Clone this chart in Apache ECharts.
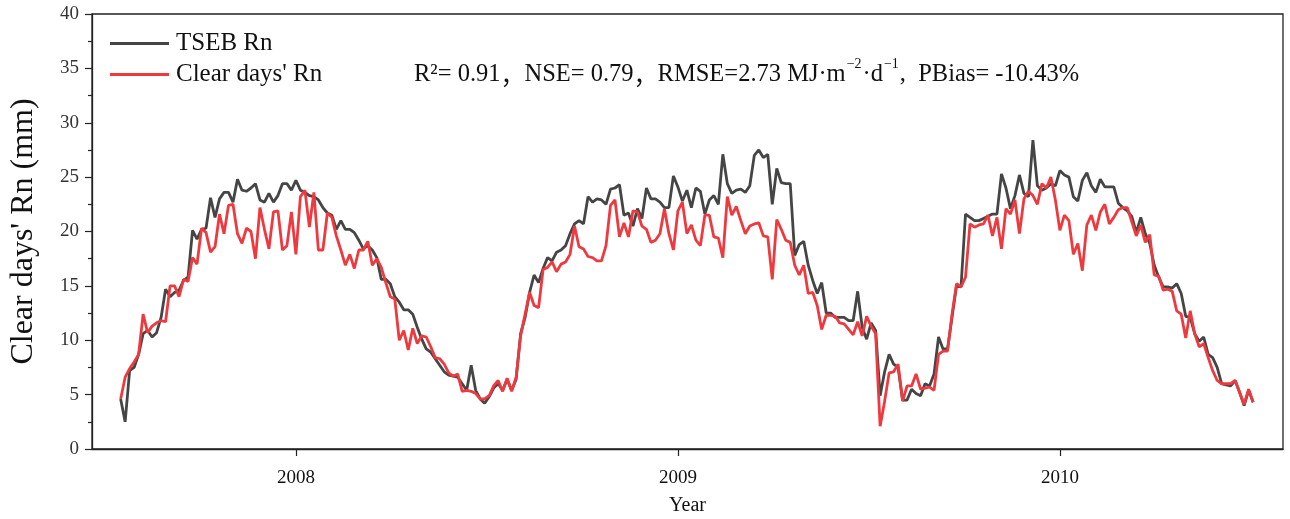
<!DOCTYPE html>
<html>
<head>
<meta charset="utf-8">
<script src="https://cdn.jsdelivr.net/npm/echarts@6/dist/echarts.min.js"></script>
<style>
html,body{margin:0;padding:0;background:#fff;}
#chart{width:1290px;height:519px;}
</style>
</head>
<body>
<div id="chart"></div>
<script>
// Sampling grid (fractional year) of the series
const START_YEAR = 2007.541;
const STEP_YEAR = 0.011765;
const YEAR_TICKS = [2008, 2009, 2010];
const SERIES_NAMES = ['TSEB Rn', "Clear days' Rn"];

const TSEB_RN = [
4.6,2.5,7.2,7.5,8.7,10.6,10.9,10.3,10.7,12.1,
14.7,14.0,14.4,14.6,15.5,15.8,20.1,19.3,20.2,20.3,
23.1,21.3,23.0,23.6,23.6,22.7,24.8,23.8,23.7,24.0,
24.4,22.9,22.7,23.5,22.7,23.3,24.4,24.4,23.8,24.7,
23.8,23.6,23.3,23.2,22.9,22.2,21.7,21.5,20.2,
21.0,20.2,20.2,19.9,19.2,18.4,18.7,18.3,17.6,15.6,
15.6,15.2,14.0,13.5,12.8,12.8,12.4,11.2,10.1,9.2,
8.9,8.3,7.7,7.1,6.8,6.7,6.6,6.0,5.4,7.7,
5.4,4.6,4.2,4.8,5.6,6.0,5.4,6.4,5.4,6.4,
10.6,12.1,14.4,16.0,15.3,16.6,17.6,17.3,18.1,18.3,
18.7,19.8,20.7,21.0,
20.7,23.2,22.7,23.0,22.9,22.5,23.9,24.0,24.3,21.5,
21.7,20.5,22.1,21.2,24.0,23.0,23.0,22.7,22.2,22.2,
25.1,24.1,22.8,23.8,22.2,24.0,23.7,21.6,22.9,23.3,
22.5,27.1,24.4,23.5,23.8,23.9,23.6,24.2,27.0,27.5,
26.8,27.1,22.5,25.8,24.5,24.4,24.4,17.8,18.8,19.1,
16.9,15.5,14.3,
15.3,12.5,12.5,12.1,12.1,12.1,11.8,11.8,14.5,11.2,
10.1,11.6,10.9,4.9,7.1,8.7,7.8,7.5,4.5,4.5,
5.5,5.1,4.9,6.0,5.8,6.9,10.3,9.2,9.2,12.1,
15.0,14.9,21.6,21.3,21.0,21.0,21.2,21.4,21.6,21.6,
25.3,24.0,22.1,23.3,25.2,23.5,23.2,28.4,24.2,23.8,
24.0,24.4,24.2,25.6,
25.2,25.0,23.2,22.8,24.7,25.4,24.2,23.6,24.8,24.1,
24.1,24.1,22.6,22.2,21.9,21.4,19.9,21.3,19.8,18.9,
16.9,15.8,14.9,14.9,14.8,15.2,14.3,12.2,12.1,10.6,
9.9,10.3,8.7,8.4,7.5,6.0,5.9,5.8,6.3,5.2,
4.0,5.4,4.3
];

const CLEAR_RN = [
4.6,6.6,7.4,8.0,8.7,12.4,10.7,11.3,11.6,11.8,
11.7,15.0,15.0,14.0,15.6,15.4,17.6,17.0,20.3,19.9,
18.1,18.6,21.6,19.8,22.4,22.5,19.8,18.9,20.3,20.0,
17.5,22.2,20.2,18.4,21.8,21.9,18.3,18.7,21.8,17.9,
23.2,23.8,20.4,23.6,18.3,18.3,21.7,21.3,19.6,
18.3,16.9,17.9,16.6,18.3,18.3,19.1,16.9,17.5,16.7,
15.3,14.0,13.8,10.0,10.9,9.1,11.1,9.7,10.4,10.3,
9.4,8.4,8.3,7.8,7.0,6.7,6.9,5.3,5.4,5.3,
5.1,4.6,4.6,4.9,5.8,6.3,5.3,6.5,5.3,6.6,
10.4,12.4,14.4,13.2,13.0,16.5,16.7,17.2,16.3,17.0,
17.2,17.9,20.5,18.6,
18.4,17.7,17.6,17.3,17.3,18.7,22.4,22.9,19.5,20.8,
19.5,21.9,21.8,20.5,20.2,19.0,19.2,19.8,22.1,19.8,
18.3,21.9,22.7,19.8,20.6,19.2,18.7,21.5,21.5,19.5,
19.4,17.6,23.2,21.5,22.3,21.0,19.8,20.5,20.7,20.8,
19.6,19.5,15.6,21.1,20.2,19.2,19.0,16.9,16.0,16.9,
14.3,14.4,13.2,
11.0,12.3,12.3,12.2,11.6,11.5,11.0,10.5,11.7,10.4,
12.2,11.3,10.6,2.1,4.4,7.0,7.1,7.8,4.4,5.8,
5.8,6.9,5.5,5.6,5.7,5.4,8.7,9.0,9.0,12.4,
15.2,14.9,15.8,20.7,20.4,20.6,20.7,21.5,19.6,21.3,
18.4,22.1,21.6,22.9,19.8,23.0,23.7,23.3,22.5,24.4,
24.0,25.0,22.9,20.1,
21.5,21.0,17.9,18.9,16.4,20.6,21.5,20.1,21.8,22.5,
20.7,21.3,22.0,22.2,22.2,20.9,19.6,20.6,19.0,19.7,
16.0,15.9,14.6,14.7,14.5,12.7,12.4,10.2,12.7,10.6,
9.4,9.7,8.4,7.2,6.3,6.0,6.0,6.0,6.3,5.2,
4.1,5.5,4.3
];

const TIME = TSEB_RN.map((_, i) => START_YEAR + i * STEP_YEAR);
const pairs = arr => arr.map((v, i) => [TIME[i], v]);

const SERIF = "'Liberation Serif','Times New Roman','Noto Sans CJK SC',serif";
const chart = echarts.init(document.getElementById('chart'), null, {renderer: 'canvas'});

chart.setOption({
  animation: false,
  backgroundColor: '#fff',
  grid: {left: 92, right: 7, top: 14, bottom: 70, outerBoundsMode: 'none', containLabel: false, show: true, borderColor: '#222', borderWidth: 1.3, backgroundColor: 'transparent'},
  legend: {
    orient: 'vertical', left: 110, top: 31, padding: 0,
    icon: 'rect', itemWidth: 59, itemHeight: 3, itemGap: 6,
    textStyle: {fontFamily: SERIF, fontSize: 25, color: '#111', lineHeight: 23, padding: [0, 0, 0, 2]},
    data: SERIES_NAMES
  },
  xAxis: {
    type: 'value', min: 2007.466, max: 2010.584,
    name: 'Year', nameLocation: 'middle', nameGap: 47,
    nameTextStyle: {fontFamily: SERIF, fontSize: 20, color: '#111'},
    axisLine: {show: true, lineStyle: {color: '#222', width: 1.3}},
    axisTick: {show: true, length: 7, customValues: YEAR_TICKS, lineStyle: {color: '#222', width: 1.2}},
    axisLabel: {margin: 20, customValues: YEAR_TICKS, formatter: v => String(Math.round(v)), fontFamily: SERIF, fontSize: 19, color: '#111'},
    splitLine: {show: false}
  },
  yAxis: {
    type: 'value', min: 0, max: 40, interval: 5,
    name: "Clear days' Rn (mm)", nameLocation: 'middle', nameGap: 52,
    nameTextStyle: {fontFamily: SERIF, fontSize: 32, color: '#111'},
    axisLine: {show: true, lineStyle: {color: '#222', width: 1.3}},
    axisTick: {show: true, length: 7, lineStyle: {color: '#222', width: 1.2}},
    minorTick: {show: true, splitNumber: 2, length: 4, lineStyle: {color: '#222', width: 1.2}},
    axisLabel: {margin: 13, fontFamily: SERIF, fontSize: 19, color: '#333'},
    splitLine: {show: false}
  },
  series: [
    {name: SERIES_NAMES[0], type: 'line', data: pairs(TSEB_RN), symbol: 'none', lineStyle: {color: '#454545', width: 2.8}, itemStyle: {color: '#454545'}, z: 2},
    {name: SERIES_NAMES[1], type: 'line', data: pairs(CLEAR_RN), symbol: 'none', lineStyle: {color: '#ee3a3f', width: 2.8}, itemStyle: {color: '#ee3a3f'}, z: 3}
  ],
  graphic: [{
    type: 'text', left: 414, top: 57,
    style: {
      text: '{a|R²= 0.91}{c|，}{a|NSE= 0.79}{c|，}{a|RMSE=2.73 MJ·m}{s|−2}{a|·d}{s|−1}{a|,  PBias= -10.43%}',
      rich: {
        a: {fontFamily: SERIF, fontSize: 24.5, fill: '#111', lineHeight: 30, verticalAlign: 'bottom'},
        c: {fontFamily: "'Noto Sans CJK SC'", fontSize: 24, fill: '#111', lineHeight: 30, verticalAlign: 'bottom'},
        s: {fontFamily: SERIF, fontSize: 14, fill: '#111', lineHeight: 30, verticalAlign: 'top', padding: [0, 1, 0, 1]}
      }
    }
  }]
});
</script>
</body>
</html>
